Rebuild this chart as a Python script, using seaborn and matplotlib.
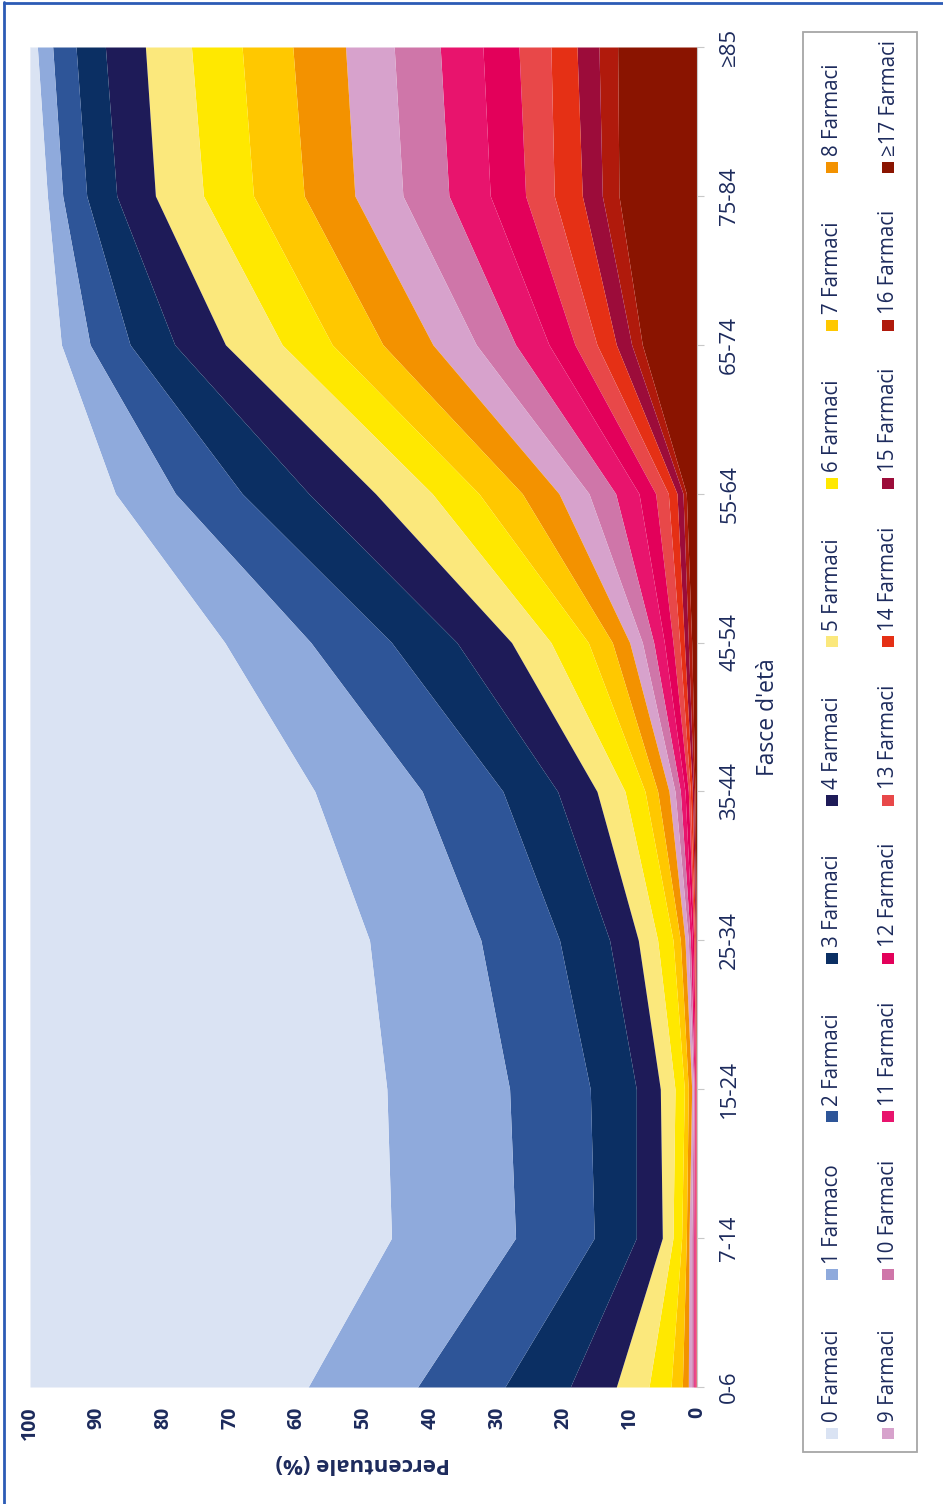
import numpy as np
import pandas as pd
import matplotlib
matplotlib.use("Agg")
import matplotlib.pyplot as plt
import seaborn as sns
from matplotlib.patches import Rectangle
from matplotlib.lines import Line2D

# ---------------- data ----------------
age_groups = ["0-6", "7-14", "15-24", "25-34", "35-44", "45-54",
              "55-64", "65-74", "75-84", "≥85"]
series_labels = ["0 Farmaci", "1 Farmaco", "2 Farmaci", "3 Farmaci", "4 Farmaci",
                 "5 Farmaci", "6 Farmaci", "7 Farmaci", "8 Farmaci", "9 Farmaci",
                 "10 Farmaci", "11 Farmaci", "12 Farmaci", "13 Farmaci", "14 Farmaci",
                 "15 Farmaci", "16 Farmaci", "≥17 Farmaci"]
# percentage of people by number of drugs (0 ... ≥17) for each age group
pct_0_6 = [41.7, 16.4, 13.1, 9.8, 6.9, 4.9, 3.3, 1.7, 0.9, 0.5, 0.3, 0.2, 0.1, 0.06, 0.04, 0.04, 0.03, 0.03]
pct_7_14 = [54.2, 18.6, 11.8, 6.3, 3.9, 1.6, 1.3, 0.7, 0.4, 0.4, 0.3, 0.2, 0.1, 0.06, 0.04, 0.04, 0.03, 0.03]
pct_15_24 = [53.5, 18.4, 12.1, 6.9, 3.6, 2.2, 1.4, 0.6, 0.5, 0.25, 0.15, 0.1, 0.1, 0.06, 0.04, 0.04, 0.03, 0.03]
pct_25_34 = [50.9, 16.7, 11.8, 7.5, 4.3, 2.9, 2.3, 1.1, 0.7, 0.5, 0.3, 0.3, 0.2, 0.15, 0.1, 0.1, 0.05, 0.1]
pct_35_44 = [42.7, 16.1, 12.1, 8.2, 5.9, 4.2, 3.0, 1.9, 1.7, 0.9, 0.8, 0.7, 0.5, 0.3, 0.3, 0.2, 0.2, 0.3]
pct_45_54 = [29.2, 12.9, 12.1, 9.8, 8.2, 5.9, 5.6, 3.6, 2.6, 1.9, 1.7, 1.6, 1.3, 1.0, 0.7, 0.6, 0.5, 0.8]
pct_55_64 = [12.8, 9.0, 10.0, 10.0, 10.0, 8.5, 7.0, 6.5, 5.5, 4.5, 4.0, 3.5, 2.5, 1.9, 1.3, 0.9, 0.5, 1.6]
pct_65_74 = [4.7, 4.3, 6.0, 6.7, 7.6, 8.5, 7.5, 7.6, 7.5, 6.5, 5.9, 5.0, 3.9, 3.3, 2.9, 2.3, 1.6, 8.2]
pct_75_84 = [2.6, 2.3, 3.6, 4.5, 5.8, 7.2, 7.5, 7.6, 7.6, 7.2, 6.9, 6.2, 5.3, 4.3, 4.2, 3.0, 2.5, 11.7]
pct_85 = [1.1, 2.3, 3.5, 4.4, 6.0, 6.9, 7.6, 7.6, 7.9, 7.3, 6.9, 6.4, 5.4, 4.8, 3.9, 3.3, 2.8, 11.9]
pct_ticks = [0, 10, 20, 30, 40, 50, 60, 70, 80, 90, 100]

colors = ["#dae3f3", "#8faadc", "#2e5598", "#0b2f63", "#1e1b58",
          "#fbe87c", "#ffe800", "#ffc800", "#f39200", "#d7a2cc",
          "#cf76a9", "#e8146d", "#e3005a", "#e84849", "#e53015",
          "#9c0c3a", "#b01a0c", "#8a1400"]

df = pd.DataFrame([pct_0_6, pct_7_14, pct_15_24, pct_25_34, pct_35_44, pct_45_54,
                   pct_55_64, pct_65_74, pct_75_84, pct_85],
                  index=age_groups, columns=series_labels)

# ---------------- figure ----------------
W, H = 943, 1504
sns.set_theme(style="white")
plt.rcParams["font.family"] = ["Open Sans", "DejaVu Sans"]
navy = "#1c2a5c"

fig = plt.figure(figsize=(W / 100, H / 100), dpi=100)
fig.patch.set_facecolor("white")

def fx(px):
    return px / W

def fy(py):
    return 1 - py / H

ax_l, ax_r, ax_t, ax_b = 30, 697, 47, 1387
ax = fig.add_axes([fx(ax_l), fy(ax_b), fx(ax_r - ax_l), (ax_b - ax_t) / H])
ax.set_facecolor("white")

ypos = np.arange(len(age_groups))
base = np.zeros(len(age_groups))
# stack from the last series (≥17) at 0 upward to 0 Farmaci at 100
for name, col in zip(series_labels[::-1], colors[::-1]):
    vals = df[name].to_numpy()
    ax.fill_betweenx(ypos, base, base + vals, color=col, linewidth=0)
    base = base + vals
sns.lineplot(x=base, y=ypos, ax=ax, color=colors[0], linewidth=0, sort=False)

ax.set_xlim(100, 0)
ax.set_ylim(0, len(age_groups) - 1)
for s in ["top", "left", "bottom"]:
    ax.spines[s].set_visible(False)
ax.spines["right"].set_color("#c8c8c8")
ax.spines["right"].set_linewidth(0.8)

ax.yaxis.tick_right()
ax.set_yticks(ypos)
ax.set_yticklabels(age_groups, rotation=90, va="center", ha="left",
                   fontsize=16, color=navy)
ax.tick_params(axis="y", length=5, width=0.8, color="#c8c8c8", pad=11)

ax.set_xticks(pct_ticks)
ax.set_xticklabels([str(t) for t in pct_ticks], rotation=90, ha="center", va="top",
                   fontsize=14, fontweight="bold", color=navy)
ax.tick_params(axis="x", length=0, pad=14)
ax.set_xlabel("")
ax.set_ylabel("")
ax.grid(False)

# axis titles (chart rotated by 90 degrees)
fig.text(fx(363), fy(1463), "Percentuale (%)", rotation=180, ha="center", va="center",
         fontsize=16, fontweight="bold", color=navy)
fig.text(fx(768), fy(717), "Fasce d'età", rotation=90, ha="center", va="center",
         fontsize=16.5, color=navy)

# legend box (rotated layout)
fig.patches.append(Rectangle((fx(803), fy(1452)), fx(917 - 803), (1452 - 32) / H,
                             transform=fig.transFigure, fill=False,
                             edgecolor="#a6a6a6", linewidth=1.3))
col_x = [832, 888]
item_y = [1433 - k * 158.25 for k in range(9)]
for i, (lab, col) in enumerate(zip(series_labels, colors)):
    cx = col_x[i // 9]
    cy = item_y[i % 9]
    fig.patches.append(Rectangle((fx(cx - 6), fy(cy + 5.5)), fx(12), 11 / H,
                                 transform=fig.transFigure, facecolor=col,
                                 edgecolor="none"))
    fig.text(fx(cx + 1), fy(cy - 11), lab, rotation=90, rotation_mode="anchor",
             ha="left", va="center", fontsize=14.8, color=navy)

# blue frame
fig.add_artist(Line2D([fx(3.5), fx(3.5)], [fy(2), fy(1504)], transform=fig.transFigure,
                      color="#2c5bb5", linewidth=2))
fig.add_artist(Line2D([fx(3.5), fx(943)], [fy(2.5), fy(2.5)], transform=fig.transFigure,
                      color="#2c5bb5", linewidth=2))

fig.savefig("out.png", dpi=100, facecolor="white")
